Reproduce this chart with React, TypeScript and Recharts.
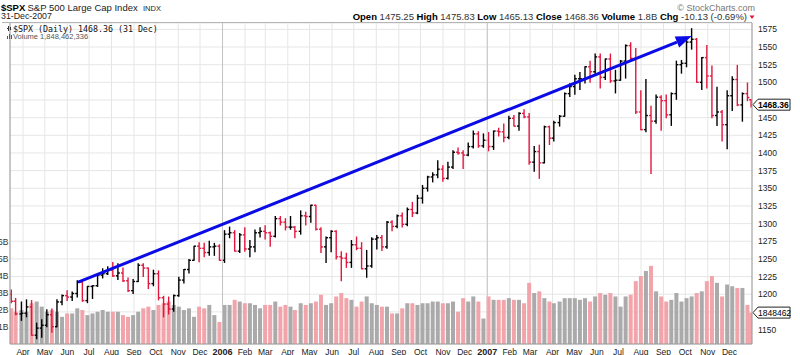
import React from "react";
import { ComposedChart, Bar, XAxis, YAxis, CartesianGrid, ReferenceLine } from "recharts";

// weekly bars, keyed by the last trading day of the week
const WEEK_ENDS = [
  "2005-03-18", "2005-03-24", "2005-04-01", "2005-04-08", "2005-04-15", "2005-04-22", "2005-04-29",
  "2005-05-06", "2005-05-13", "2005-05-20", "2005-05-27", "2005-06-03", "2005-06-10", "2005-06-17",
  "2005-06-24", "2005-07-01", "2005-07-08", "2005-07-15", "2005-07-22", "2005-07-29", "2005-08-05",
  "2005-08-12", "2005-08-19", "2005-08-26", "2005-09-02", "2005-09-09", "2005-09-16", "2005-09-23",
  "2005-09-30", "2005-10-07", "2005-10-14", "2005-10-21", "2005-10-28", "2005-11-04", "2005-11-11",
  "2005-11-18", "2005-11-25", "2005-12-02", "2005-12-09", "2005-12-16", "2005-12-23", "2005-12-30",
  "2006-01-06", "2006-01-13", "2006-01-20", "2006-01-27", "2006-02-03", "2006-02-10", "2006-02-17",
  "2006-02-24", "2006-03-03", "2006-03-10", "2006-03-17", "2006-03-24", "2006-03-31", "2006-04-07",
  "2006-04-13", "2006-04-21", "2006-04-28", "2006-05-05", "2006-05-12", "2006-05-19", "2006-05-26",
  "2006-06-02", "2006-06-09", "2006-06-16", "2006-06-23", "2006-06-30", "2006-07-07", "2006-07-14",
  "2006-07-21", "2006-07-28", "2006-08-04", "2006-08-11", "2006-08-18", "2006-08-25", "2006-09-01",
  "2006-09-08", "2006-09-15", "2006-09-22", "2006-09-29", "2006-10-06", "2006-10-13", "2006-10-20",
  "2006-10-27", "2006-11-03", "2006-11-10", "2006-11-17", "2006-11-24", "2006-12-01", "2006-12-08",
  "2006-12-15", "2006-12-22", "2006-12-29",
  "2007-01-05", "2007-01-12", "2007-01-19", "2007-01-26", "2007-02-02", "2007-02-09", "2007-02-16",
  "2007-02-23", "2007-03-02", "2007-03-09", "2007-03-16", "2007-03-23", "2007-03-30", "2007-04-05",
  "2007-04-13", "2007-04-20", "2007-04-27", "2007-05-04", "2007-05-11", "2007-05-18", "2007-05-25",
  "2007-06-01", "2007-06-08", "2007-06-15", "2007-06-22", "2007-06-29", "2007-07-06", "2007-07-13",
  "2007-07-20", "2007-07-27", "2007-08-03", "2007-08-10", "2007-08-17", "2007-08-24", "2007-08-31",
  "2007-09-07", "2007-09-14", "2007-09-21", "2007-09-28", "2007-10-05", "2007-10-12", "2007-10-19",
  "2007-10-26", "2007-11-02", "2007-11-09", "2007-11-16", "2007-11-23", "2007-11-30", "2007-12-07",
  "2007-12-14", "2007-12-21", "2007-12-28", "2007-12-31",
];

const OPEN = [
  1200, 1190, 1172, 1173, 1182, 1142, 1152, 1156, 1171, 1154, 1189, 1198, 1196, 1201, 1217, 1191, 1211, 1212, 1227, 1229, 1234,
  1226, 1230, 1219, 1205, 1218, 1241, 1237, 1215, 1229, 1195, 1186, 1179, 1198, 1220, 1235, 1248, 1268, 1265, 1259, 1267, 1268,
  1248, 1285, 1287, 1261, 1284, 1264, 1267, 1287, 1289, 1287, 1282, 1307, 1302, 1295, 1295, 1289, 1311, 1310, 1326, 1292, 1267,
  1280, 1289, 1253, 1251, 1245, 1270, 1265, 1236, 1240, 1278, 1280, 1267, 1302, 1296, 1311, 1299, 1320, 1315, 1336, 1350, 1366,
  1369, 1377, 1364, 1380, 1401, 1400, 1397, 1409, 1427, 1410,
  1418, 1409, 1431, 1430, 1422, 1449, 1438, 1456, 1451, 1387, 1402, 1386, 1437, 1421, 1443, 1452, 1484, 1494, 1505, 1505, 1522,
  1515, 1536, 1507, 1533, 1502, 1503, 1530, 1552, 1534, 1458, 1433, 1453, 1445, 1479, 1474, 1454, 1484, 1525, 1527, 1557, 1561,
  1500, 1535, 1509, 1453, 1458, 1440, 1481, 1504, 1468, 1484, 1475.25,
];
const HIGH = [
  1206, 1194, 1189, 1192, 1191, 1159, 1164, 1178, 1179, 1192, 1199, 1205, 1203, 1219, 1220, 1211, 1212, 1228, 1236, 1239, 1245,
  1243, 1237, 1223, 1221, 1243, 1243, 1237, 1234, 1233, 1197, 1196, 1199, 1224, 1235, 1249, 1268, 1273, 1272, 1275, 1272, 1270,
  1290, 1295, 1290, 1286, 1294, 1276, 1291, 1294, 1297, 1288, 1310, 1310, 1307, 1310, 1296, 1318, 1316, 1326, 1326, 1294, 1281,
  1290, 1290, 1260, 1258, 1276, 1281, 1273, 1262, 1280, 1283, 1283, 1303, 1304, 1312, 1315, 1322, 1330, 1340, 1354, 1367, 1372,
  1389, 1382, 1387, 1403, 1407, 1403, 1414, 1431, 1430, 1427,
  1429, 1431, 1435, 1441, 1452, 1453, 1457, 1461, 1456, 1409, 1411, 1438, 1438, 1445, 1453, 1485, 1498, 1510, 1514, 1522, 1530,
  1540, 1540, 1533, 1540, 1517, 1531, 1553, 1556, 1548, 1488, 1504, 1466, 1482, 1481, 1482, 1485, 1530, 1531, 1560, 1576, 1562,
  1535, 1552, 1523, 1493, 1460, 1488, 1508, 1524, 1485, 1499, 1475.83,
];
const LOW = [
  1188, 1171, 1163, 1168, 1142, 1137, 1139, 1154, 1146, 1154, 1185, 1191, 1191, 1196, 1190, 1188, 1194, 1211, 1223, 1228, 1225,
  1221, 1218, 1204, 1201, 1218, 1225, 1208, 1212, 1192, 1168, 1172, 1176, 1197, 1216, 1230, 1248, 1246, 1253, 1255, 1255, 1248,
  1245, 1280, 1261, 1259, 1261, 1253, 1260, 1281, 1278, 1268, 1281, 1298, 1291, 1292, 1280, 1285, 1298, 1302, 1291, 1259, 1245,
  1260, 1250, 1219, 1238, 1238, 1263, 1236, 1224, 1238, 1264, 1262, 1265, 1290, 1294, 1295, 1297, 1310, 1314, 1329, 1346, 1359,
  1365, 1360, 1363, 1378, 1398, 1378, 1396, 1407, 1408, 1408,
  1403, 1405, 1424, 1416, 1420, 1438, 1432, 1450, 1384, 1374, 1364, 1386, 1412, 1417, 1438, 1452, 1480, 1483, 1490, 1499, 1500,
  1513, 1492, 1504, 1500, 1485, 1503, 1506, 1530, 1456, 1433, 1430, 1371, 1442, 1432, 1450, 1439, 1476, 1513, 1522, 1547, 1500,
  1490, 1492, 1450, 1439, 1417, 1406, 1460, 1467, 1445, 1474, 1465.13,
];
const CLOSE = [
  1190, 1172, 1173, 1182, 1142, 1152, 1156, 1171, 1154, 1189, 1198, 1196, 1201, 1217, 1191, 1211, 1212, 1227, 1229, 1234, 1226,
  1230, 1219, 1205, 1218, 1241, 1237, 1215, 1229, 1195, 1186, 1179, 1198, 1220, 1235, 1248, 1268, 1265, 1259, 1267, 1268, 1248,
  1285, 1287, 1261, 1284, 1264, 1267, 1287, 1289, 1287, 1282, 1307, 1302, 1295, 1295, 1289, 1311, 1310, 1326, 1292, 1267, 1280,
  1289, 1253, 1251, 1245, 1270, 1265, 1236, 1240, 1278, 1280, 1267, 1302, 1296, 1311, 1299, 1320, 1315, 1336, 1350, 1366, 1369,
  1377, 1364, 1380, 1401, 1400, 1397, 1409, 1427, 1410, 1418,
  1409, 1431, 1430, 1422, 1449, 1438, 1456, 1451, 1387, 1402, 1386, 1437, 1421, 1443, 1452, 1484, 1494, 1505, 1505, 1522, 1515,
  1536, 1507, 1533, 1502, 1503, 1530, 1552, 1534, 1458, 1433, 1453, 1445, 1479, 1474, 1454, 1484, 1525, 1527, 1557, 1561, 1500,
  1535, 1509, 1453, 1458, 1440, 1481, 1504, 1468, 1484, 1478.49, 1468.36,
];
// average daily volume of each week, billions of shares
const VOLUME_B = [
  2.1, 1.9, 2.0, 1.9, 2.4, 2.5, 2.2, 1.9, 2.0, 1.9, 1.6, 1.8, 1.8, 2.1, 2.0, 1.7, 1.8, 1.9, 2.0, 1.9, 1.9,
  1.9, 1.7, 1.6, 1.7, 1.9, 2.1, 2.2, 2.0, 2.3, 2.4, 2.5, 2.3, 2.2, 2.0, 2.1, 1.6, 2.2, 2.1, 2.3, 1.7, 1.3,
  2.3, 2.3, 2.6, 2.5, 2.4, 2.4, 2.3, 2.1, 2.3, 2.3, 2.5, 2.2, 2.3, 2.2, 2.0, 2.4, 2.3, 2.4, 2.5, 2.9, 2.3,
  2.4, 2.8, 3.0, 2.7, 2.6, 2.2, 2.5, 2.8, 2.4, 2.3, 2.2, 2.2, 1.8, 1.8, 2.1, 2.4, 2.4, 2.3, 2.4, 2.4, 2.5,
  2.5, 2.4, 2.4, 2.5, 1.9, 2.7, 2.5, 2.8, 2.5, 1.5,
  2.8, 2.6, 2.6, 2.6, 2.7, 2.6, 2.6, 2.4, 3.6, 3.0, 3.1, 2.7, 2.5, 2.4, 2.5, 2.7, 2.7, 2.7, 2.6, 2.7, 2.5,
  2.8, 3.0, 2.9, 3.0, 2.8, 2.2, 2.8, 2.9, 3.7, 4.0, 4.3, 4.6, 3.1, 2.8, 2.5, 2.6, 3.0, 2.5, 2.7, 2.8, 3.0,
  3.1, 3.7, 4.0, 3.6, 2.8, 3.5, 3.4, 3.3, 3.3, 2.3, 1.85,
];

const MONTH_TICKS = [
  "2005-04", "2005-05", "2005-06", "2005-07", "2005-08", "2005-09", "2005-10", "2005-11", "2005-12",
  "2006-01", "2006-02", "2006-03", "2006-04", "2006-05", "2006-06", "2006-07", "2006-08", "2006-09",
  "2006-10", "2006-11", "2006-12", "2007-01", "2007-02", "2007-03", "2007-04", "2007-05", "2007-06",
  "2007-07", "2007-08", "2007-09", "2007-10", "2007-11", "2007-12",
];
const MONTH_NAMES = ["Jan", "Feb", "Mar", "Apr", "May", "Jun", "Jul", "Aug", "Sep", "Oct", "Nov", "Dec"];
const YEAR_LINES = ["2006-01-01", "2007-01-01"];
const PRICE_TICKS = [1150, 1175, 1200, 1225, 1250, 1275, 1300, 1325, 1350, 1375, 1400, 1425, 1450, 1475, 1500, 1525, 1550, 1575];
// labels hidden behind the last-value tags
const COVERED_PRICE_LABELS = [1175, 1475];
const VOL_TICKS = [1, 2, 3, 4, 5, 6];

const LAST_CLOSE = 1468.36;
const LAST_VOLUME_B = 1.848462336;
const TREND_FROM = { date: "2005-06-16", price: 1217 };
const TREND_TO = { date: "2007-10-10", price: 1565.5 };

const day = (s: string) => Math.round(Date.parse(s.length === 7 ? s + "-01" : s) / 86400000);

const data = WEEK_ENDS.map((d, i) => ({
  // bars sit mid-week; the last one is a single session
  t: i === WEEK_ENDS.length - 1 ? day(d) : day(d) - 2,
  open: OPEN[i],
  high: HIGH[i],
  low: LOW[i],
  close: CLOSE[i],
  vol: VOLUME_B[i],
  up: CLOSE[i] >= (i > 0 ? CLOSE[i - 1] : OPEN[0]),
}));

const RED = "#e3173e";
const SANS = "'Liberation Sans', Arial, sans-serif";

// OHLC bar: high-low stem, open tick left, close tick right
function OhlcBar(p: any) {
  const { x, y, width, height, payload } = p;
  if (x == null || !payload) return null;
  const top = Math.min(y, y + height);
  const h = Math.abs(height);
  const span = payload.high - payload.low || 1;
  const py = (v: number) => top + ((payload.high - v) / span) * h;
  const cx = x + width / 2;
  const color = payload.up ? "#000" : RED;
  return (
    <g stroke={color} strokeWidth={1.4}>
      <line x1={cx} x2={cx} y1={top - 0.5} y2={top + h + 0.5} />
      <line x1={cx - 2} x2={cx} y1={py(payload.open)} y2={py(payload.open)} />
      <line x1={cx} x2={cx + 2} y1={py(payload.close)} y2={py(payload.close)} />
    </g>
  );
}

function VolBar(p: any) {
  const { x, y, width, height, payload } = p;
  if (x == null || !payload) return null;
  const cx = x + width / 2;
  return <rect x={cx - 2} y={Math.min(y, y + height)} width={4} height={Math.abs(height)} fill={payload.up ? "#aaaaaa" : "#f2a4ab"} />;
}

function MonthTick(p: any) {
  const { x, y, payload } = p;
  const d = new Date(payload.value * 86400000);
  const m = d.getUTCMonth();
  const isYear = m === 0;
  return (
    <text x={x} y={y + 8.5} textAnchor="middle" fontFamily={SANS} fontSize={isYear ? 9 : 8.5} fontWeight={isYear ? 700 : 400} fill="#222">
      {isYear ? String(d.getUTCFullYear()) : MONTH_NAMES[m]}
    </text>
  );
}

function PriceTick(p: any) {
  const { x, y, payload } = p;
  if (COVERED_PRICE_LABELS.includes(payload.value)) return null;
  return (
    <text x={x} y={y + 3} fontFamily={SANS} fontSize={8.5} fill="#222">
      {payload.value}
    </text>
  );
}

function VolTick(p: any) {
  const { y, payload } = p;
  return (
    <text x={8.5} y={y + 3} textAnchor="end" fontFamily={SANS} fontSize={8.5} fill="#333">
      {payload.value}B
    </text>
  );
}

function TrendArrow(p: any) {
  const { x1, y1, x2, y2 } = p;
  if (x1 == null) return null;
  const a = Math.atan2(y2 - y1, x2 - x1);
  const len = 16;
  const half = 6;
  const bx = x2 - len * Math.cos(a);
  const by = y2 - len * Math.sin(a);
  const nx = -Math.sin(a) * half;
  const ny = Math.cos(a) * half;
  return (
    <g>
      <line x1={x1} y1={y1} x2={bx} y2={by} stroke="#0b0be6" strokeWidth={3} />
      <polygon points={`${x2},${y2} ${bx + nx},${by + ny} ${bx - nx},${by - ny}`} fill="#0b0be6" />
    </g>
  );
}

function Tag({ x, y, text, bold }: { x: number; y: number; text: string; bold?: boolean }) {
  return (
    <g>
      <polygon
        points={`${x + 1},${y} ${x + 6},${y - 5.5} ${x + 38},${y - 5.5} ${x + 38},${y + 5.5} ${x + 6},${y + 5.5}`}
        fill="#fff"
        stroke="#222"
        strokeWidth={1}
      />
      <text x={x + 6} y={y + 3} fontFamily={SANS} fontSize={8.5} fontWeight={bold ? 700 : 400} fill="#000">
        {text}
      </text>
    </g>
  );
}

function Header() {
  return (
    <svg width={800} height={355} style={{ position: "absolute", left: 0, top: 0, pointerEvents: "none" }}>
      <text x={1} y={10.5} fontFamily={SANS} fontSize={9.5} fontWeight={700} fill="#000">$SPX</text>
      <text x={27.5} y={10.5} fontFamily={SANS} fontSize={9.5} fill="#222">S&amp;P 500 Large Cap Index</text>
      <text x={143} y={10.5} fontFamily={SANS} fontSize={7.5} fill="#222">INDX</text>
      <text x={1} y={19} fontFamily={SANS} fontSize={8.8} fill="#222">31-Dec-2007</text>
      <text x={755} y={10.5} textAnchor="end" fontFamily={SANS} fontSize={9} fill="#777">© StockCharts.com</text>
      <text x={747} y={20} textAnchor="end" fontFamily={SANS} fontSize={9.5} fill="#333">
        <tspan fontWeight={700} fill="#000">Open</tspan> 1475.25{" "}
        <tspan fontWeight={700} fill="#000">High</tspan> 1475.83{" "}
        <tspan fontWeight={700} fill="#000">Low</tspan> 1465.13{" "}
        <tspan fontWeight={700} fill="#000">Close</tspan> 1468.36{" "}
        <tspan fontWeight={700} fill="#000">Volume</tspan> 1.8B{" "}
        <tspan fontWeight={700} fill="#000">Chg</tspan> -10.13 (-0.69%)
      </text>
      <polygon points="749.5,15.5 754.5,15.5 752,19" fill={RED} />
      <line x1={2} y1={22.5} x2={752} y2={22.5} stroke="#b5b5b5" strokeWidth={1} />
      <g stroke="#333" strokeWidth={1}>
        <line x1={8.5} y1={26} x2={8.5} y2={31} />
        <line x1={10.5} y1={27} x2={10.5} y2={30} />
        <line x1={7} y1={28.5} x2={8.5} y2={28.5} />
      </g>
      <text x={13} y={31.5} fontFamily="'DejaVu Sans Mono', monospace" fontSize={8.3} fill="#111">
        $SPX (Daily) 1468.36 (31 Dec)
      </text>
      <g fill="#555">
        <rect x={7} y={36} width={1} height={3} />
        <rect x={9} y={34} width={1} height={5} />
        <rect x={11} y={35} width={1} height={4} />
      </g>
      <text x={13} y={39} fontFamily={SANS} fontSize={7.5} fill="#555">
        Volume 1,848,462,336
      </text>
    </svg>
  );
}

export default function App() {
  const domain: [number, number] = [day("2005-03-14"), day("2008-01-01")];
  return (
    <div style={{ position: "absolute", left: 0, top: 0, width: 800, height: 355, background: "#fff" }}>
      <ComposedChart width={800} height={355} data={data} margin={{ top: 23, right: 0, bottom: 0, left: 0 }}>
        <CartesianGrid xAxisId="p" yAxisId="price" stroke="#e6e6e6" strokeWidth={1} />
        <XAxis
          xAxisId="p"
          type="number"
          dataKey="t"
          domain={domain}
          allowDataOverflow
          ticks={MONTH_TICKS.map(day)}
          interval={0}
          tick={<MonthTick />}
          tickLine={false}
          tickSize={0}
          axisLine={{ stroke: "#9a9a9a" }}
          height={11}
        />
        <XAxis xAxisId="v" type="number" dataKey="t" domain={domain} allowDataOverflow hide />
        <YAxis
          yAxisId="vol"
          orientation="left"
          width={10}
          domain={[0, 18.9]}
          allowDataOverflow
          ticks={VOL_TICKS}
          interval={0}
          tick={<VolTick />}
          tickLine={false}
          axisLine={{ stroke: "#9a9a9a" }}
        />
        <YAxis
          yAxisId="price"
          orientation="right"
          width={48}
          domain={[1129.5, 1584]}
          allowDataOverflow
          ticks={PRICE_TICKS}
          interval={0}
          tick={<PriceTick />}
          tickLine={false}
          tickSize={0}
          tickMargin={6}
          axisLine={{ stroke: "#9a9a9a" }}
        />
        {YEAR_LINES.map((d) => (
          <ReferenceLine key={d} xAxisId="p" yAxisId="price" x={day(d)} stroke="#c4c4c4" />
        ))}
        <Bar xAxisId="v" yAxisId="vol" dataKey="vol" barSize={4} shape={<VolBar />} isAnimationActive={false} />
        <Bar
          xAxisId="p"
          yAxisId="price"
          dataKey={(d: any) => [d.low, d.high]}
          barSize={4}
          shape={<OhlcBar />}
          isAnimationActive={false}
        />
        <ReferenceLine
          xAxisId="p"
          yAxisId="price"
          segment={[
            { x: day(TREND_FROM.date), y: TREND_FROM.price },
            { x: day(TREND_TO.date), y: TREND_TO.price },
          ]}
          shape={TrendArrow}
        />
        <ReferenceLine
          xAxisId="p"
          yAxisId="price"
          y={LAST_CLOSE}
          shape={(p: any) => <Tag x={Math.max(p.x1, p.x2)} y={p.y1} text="1468.36" bold />}
        />
        <ReferenceLine
          xAxisId="v"
          yAxisId="vol"
          y={LAST_VOLUME_B}
          shape={(p: any) => <Tag x={Math.max(p.x1, p.x2)} y={p.y1} text="1848462" />}
        />
      </ComposedChart>
      <Header />
    </div>
  );
}
